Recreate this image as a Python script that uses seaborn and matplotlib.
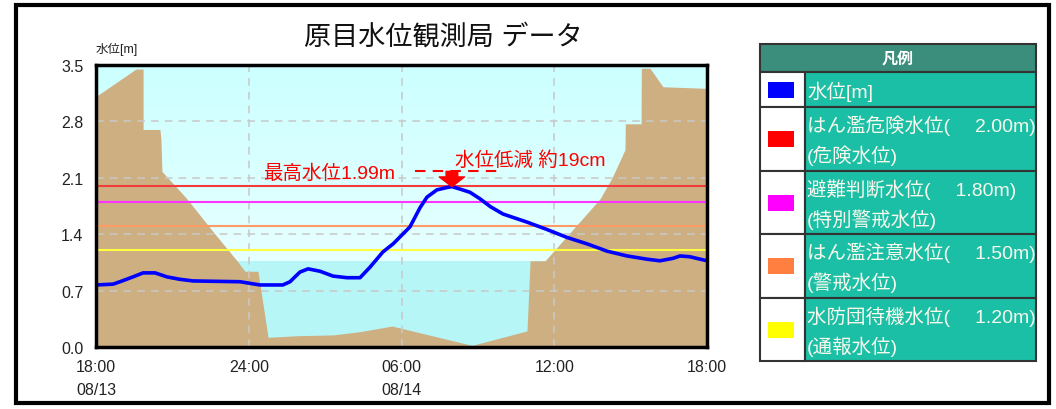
import matplotlib
matplotlib.use("Agg")
import matplotlib.pyplot as plt
from matplotlib.colors import LinearSegmentedColormap
from matplotlib.patches import Rectangle
import seaborn as sns
import numpy as np

# water level, hours after 08/13 18:00
level_hours = [0.0, 0.67, 0.94, 1.45, 1.85, 2.32, 2.79, 3.30, 3.81, 5.66, 6.44,
               7.34, 7.62, 8.01, 8.33, 8.80, 9.31, 9.86, 10.37, 10.76, 11.27,
               11.67, 12.33, 12.73, 13.0, 13.39, 13.79, 13.98, 14.3, 14.69,
               15.08, 15.5, 15.99, 16.93, 17.7, 18.5, 19.29, 20.07, 20.86,
               21.64, 22.15, 22.66, 22.94, 23.33, 24.0]
level_values = [0.77, 0.78, 0.81, 0.87, 0.92, 0.92, 0.87, 0.84, 0.82, 0.81, 0.77,
                0.77, 0.81, 0.93, 0.97, 0.94, 0.88, 0.86, 0.86, 0.99, 1.18,
                1.28, 1.49, 1.73, 1.86, 1.95, 1.98, 1.99, 1.96, 1.92,
                1.84, 1.74, 1.65, 1.55, 1.46, 1.36, 1.28, 1.19, 1.13,
                1.09, 1.07, 1.10, 1.13, 1.12, 1.07]

# river cross-section (ground) drawn behind the series
ground_x = [0, 1.57, 1.85, 1.85, 2.51, 2.55, 2.59, 3.57, 4.60, 5.54, 5.85, 6.36,
            6.76, 7.89, 9.31, 10.37, 11.63, 14.77, 16.93, 17.05, 17.64, 19.80,
            20.27, 20.78, 20.79, 21.41, 21.42, 21.76, 22.27, 24]
ground_y = [3.11, 3.45, 3.45, 2.70, 2.70, 2.58, 2.18, 1.84, 1.43, 1.07, 0.94, 0.94,
            0.12, 0.14, 0.15, 0.19, 0.26, 0.02, 0.20, 1.07, 1.07, 1.84,
            2.10, 2.45, 2.77, 2.77, 3.46, 3.46, 3.23, 3.21]
normal_water = 1.07

# reference levels
ref_names = ["はん濫危険水位", "避難判断水位", "はん濫注意水位", "水防団待機水位"]
ref_alias = ["危険水位", "特別警戒水位", "警戒水位", "通報水位"]
ref_levels = [2.00, 1.80, 1.50, 1.20]
ref_line_colors = ["#f23c3c", "#ff33ff", "#ff9a66", "#ffff40"]
ref_box_colors = ["#ff0000", "#ff00ff", "#ff7f40", "#ffff00"]

x_ticks = [0, 6, 12, 18, 24]
x_ticklabels = ["18:00\n08/13", "24:00", "06:00\n08/14", "12:00", "18:00"]
y_ticks = [0.0, 0.7, 1.4, 2.1, 2.8, 3.5]

sns.set_style("white")
plt.rcParams['font.family'] = ['Liberation Sans', 'Noto Sans CJK JP']

fig = plt.figure(figsize=(10.56, 4.10), dpi=100)
ax = fig.add_axes([96 / 1056, 62 / 410, 611 / 1056, 282 / 410])

# background gradient + water + ground
bg = LinearSegmentedColormap.from_list("bg", ["#f2ffff", "#ccffff"])
ax.imshow(np.linspace(0, 1, 256).reshape(-1, 1), extent=[0, 24, 0, 3.5],
          origin="lower", aspect="auto", cmap=bg, zorder=0)
ax.axhspan(0, normal_water, color="#b6f6f6", lw=0, zorder=0.5)
ax.fill_between(ground_x, 0, ground_y, color="#cdaf82", lw=0, zorder=1)

for lv, c in zip(ref_levels, ref_line_colors):
    ax.axhline(lv, color=c, lw=1.5, zorder=3)

sns.lineplot(x=level_hours, y=level_values, ax=ax, color="#0000ff", lw=2.6,
             zorder=4)

ax.set_xlim(0, 24)
ax.set_ylim(0, 3.5)
ax.set_xticks(x_ticks)
ax.set_xticklabels(x_ticklabels, linespacing=1.6)
ax.set_yticks(y_ticks)
ax.set_yticklabels([f"{v:.1f}" for v in y_ticks])
ax.set_axisbelow(False)
ax.grid(True, color="#c8c8c8", lw=1.1, ls=(0, (5, 4)), zorder=2)
ax.tick_params(axis="y", direction="in", length=6, width=2, color="black",
               labelsize=11.5, labelcolor="#222222", pad=9)
ax.tick_params(axis="x", length=0, labelsize=11.5, labelcolor="#222222", pad=9)
for s in ax.spines.values():
    s.set_color("black")
    s.set_linewidth(2.5)
    s.set_zorder(8)
ax.set_xlabel("")
ax.set_ylabel("")
ax.text(0, 1.06, "水位[m]", transform=ax.transAxes, fontsize=9,
        ha="left", va="center", color="#222222")

# peak annotation
i_peak = int(np.argmax(level_values))
peak_h, peak_v = level_hours[i_peak], level_values[i_peak]
ax.text(6.56, 2.16, f"最高水位{peak_v:.2f}m", color="#ff0000", fontsize=14,
        ha="left", va="center", zorder=5)
ax.plot([12.53, 15.99], [2.18, 2.18], color="#ff0000", lw=1.5,
        ls=(0, (5, 3.5)), zorder=5)
ax.annotate("", xy=(peak_h, peak_v), xytext=(peak_h, 2.18),
            arrowprops=dict(arrowstyle="simple,head_length=0.5,head_width=1.3,tail_width=0.6",
                            color="#ff0000", shrinkA=0, shrinkB=0,
                            mutation_scale=14), zorder=5)
ax.text(14.1, 2.33, "水位低減 約19cm", color="#ff0000", fontsize=14,
        ha="left", va="center", zorder=5)

fig.text(443 / 1056, 1 - 38 / 410, "原目水位観測局 データ", fontsize=19.5,
         ha="center", va="center", color="#111111")

# legend table and outer frame, drawn on a pixel overlay
lax = fig.add_axes([0, 0, 1, 1], zorder=10)
lax.set_xlim(0, 1056)
lax.set_ylim(410, 0)
lax.axis("off")
lax.patch.set_alpha(0)
lax.add_patch(Rectangle((16, 6), 1033, 398, fill=False, ec="black", lw=3))

tx0, tx1, tsplit = 760, 1036, 805
head_top, head_bot = 45, 73
row_edges = [73, 108, 172, 235, 299, 362]
lax.add_patch(Rectangle((tx0, head_top), tx1 - tx0, head_bot - head_top,
                        fc="#3b8e7c", ec="#333333", lw=1.5))
lax.text((tx0 + tx1) / 2, (head_top + head_bot) / 2 + 1, "凡例", color="white",
         fontsize=11.5, fontweight="bold", ha="center", va="center")

rows = [("水位[m]", None, "#0000ff")]
for n, a, lv, c in zip(ref_names, ref_alias, ref_levels, ref_box_colors):
    rows.append((f"{n}(\u3000 {lv:.2f}m)", f"({a})", c))

for (l1, l2, c), top, bot in zip(rows, row_edges[:-1], row_edges[1:]):
    lax.add_patch(Rectangle((tx0, top), tsplit - tx0, bot - top,
                            fc="white", ec="#333333", lw=1.5))
    lax.add_patch(Rectangle((tsplit, top), tx1 - tsplit, bot - top,
                            fc="#1abfa5", ec="#333333", lw=1.5))
    mid = (top + bot) / 2
    lax.add_patch(Rectangle((768, mid - 8), 26, 16, fc=c, ec="none"))
    if l2 is None:
        lax.text(807, mid + 1, l1, color="#f8f8ec", fontsize=14,
                 ha="left", va="center")
    else:
        lax.text(807, top + 18, l1, color="#f8f8ec", fontsize=14,
                 ha="left", va="center")
        lax.text(807, top + 48, l2, color="#f8f8ec", fontsize=14,
                 ha="left", va="center")

fig.savefig("out.png", dpi=100)
